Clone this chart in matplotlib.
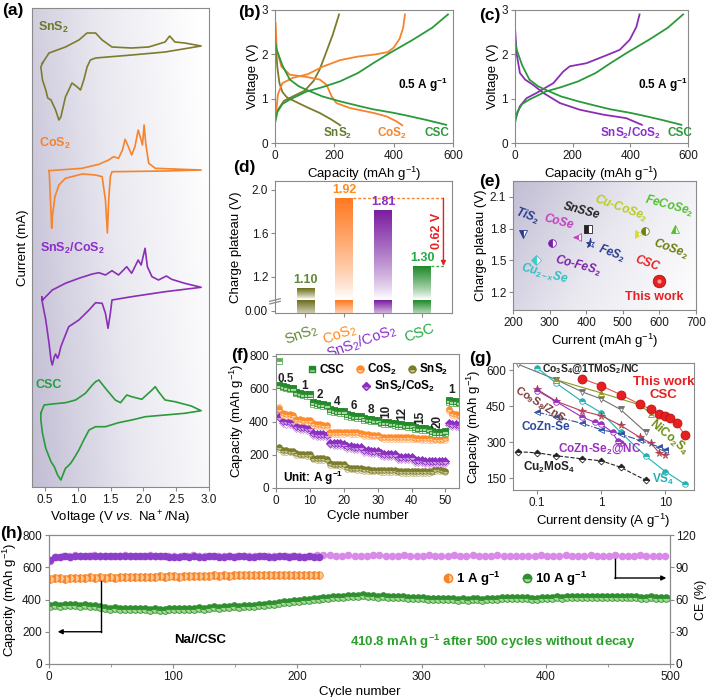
import numpy as np
import matplotlib.pyplot as plt
from matplotlib.colors import LinearSegmentedColormap
from matplotlib.lines import Line2D
import matplotlib.transforms as mtrans

plt.rcParams['font.family'] = ['Liberation Sans', 'DejaVu Sans']
plt.rcParams['mathtext.fontset'] = 'custom'
plt.rcParams['mathtext.rm'] = 'Liberation Sans'
plt.rcParams['mathtext.it'] = 'Liberation Sans:italic'
plt.rcParams['mathtext.bf'] = 'Liberation Sans:bold'
plt.rcParams['mathtext.default'] = 'regular'
plt.rcParams['font.size'] = 8.5
plt.rcParams['axes.edgecolor'] = '#8a8a8a'
plt.rcParams['xtick.color'] = '#8a8a8a'
plt.rcParams['ytick.color'] = '#8a8a8a'
plt.rcParams['xtick.labelcolor'] = '#1a1a1a'
plt.rcParams['ytick.labelcolor'] = '#1a1a1a'
plt.rcParams['xtick.major.size'] = 3
plt.rcParams['ytick.major.size'] = 3
plt.rcParams['xtick.major.pad'] = 2
plt.rcParams['ytick.major.pad'] = 2
plt.rcParams['axes.labelpad'] = 2
plt.rcParams['axes.labelsize'] = 9.5

OLIVE = '#7c7c2c'
ORANGE = '#f7832b'
PURPLE = '#8a2fb5'
GREEN = '#2a9a3a'
RED = '#e62020'

# ---------------- (a) CV curves ----------------
cv_sns2_v = [0.46, 0.56, 0.81, 1.015, 1.14, 1.27, 1.37, 1.52, 1.82, 2.08, 2.18, 2.33, 2.40, 2.48, 2.63, 2.88,
             2.33, 1.82, 1.27, 1.19, 1.14, 1.09, 1.04, 0.99, 0.91, 0.81, 0.74, 0.71, 0.66, 0.59, 0.54, 0.51, 0.46, 0.435, 0.46]
cv_sns2_i = [4, 14, 20, 27, 34, 34, 27, 20, 19, 20, 22, 25, 31, 25, 24, 21,
             15, 12, 9, 7, 0, -13, -23, -20, -16, -30, -50, -53, -43, -33, -31, -23, -13, 0, 4]
cv_cos2_v = [0.56, 0.81, 1.065, 1.32, 1.47, 1.545, 1.62, 1.68, 1.72, 1.77, 1.82, 1.87, 1.92, 1.965, 1.985,
             2.01, 2.035, 2.08, 2.18, 2.88, 2.33, 1.52, 1.495, 1.47, 1.45, 1.42, 1.37, 1.27, 1.065, 0.81,
             0.71, 0.65, 0.61, 0.60, 0.586, 0.565, 0.56]
cv_cos2_i = [0.3, 1.5, 2.7, 6.7, 11, 14.3, 12.7, 21, 31.7, 24.3, 16, 24.3, 41, 31, 26,
             46, 27.7, 7.7, 2.7, 1, 0, -0.7, -5.7, -29, -62, -29, -5.7, -4, -3, -7.3,
             -14, -25.7, -45.7, -57.3, -35.7, -4, 0.3]
cv_hyb_v = [0.46, 0.61, 0.81, 1.015, 1.22, 1.32, 1.42, 1.52, 1.62, 1.745, 1.82, 1.92, 1.965, 2.025, 2.06,
            2.13, 2.23, 2.35, 2.43, 2.63, 2.88, 2.33, 1.82, 1.52, 1.495, 1.46, 1.42, 1.37, 1.27, 1.17,
            1.015, 0.86, 0.79, 0.74, 0.71, 0.69, 0.66, 0.64, 0.61, 0.59, 0.56, 0.51, 0.46, 0.45, 0.46]
cv_hyb_i = [-10, 0, 6.7, 11.7, 16, 17.3, 15, 19.3, 15, 23.3, 16.7, 30, 25, 41.7, 23.3,
            13.3, 10, 14, 10.7, 6.7, 2.7, -1.7, -6.7, -10, -23.3, -38.3, -23.3, -13.3, -12.7, -20,
            -30, -36.7, -48.3, -56.7, -65, -68.3, -64, -66.7, -75, -70, -53.3, -30, -13.3, -6.7, -10]
cv_csc_v = [0.435, 0.485, 0.61, 0.81, 0.965, 1.115, 1.22, 1.27, 1.32, 1.36, 1.42, 1.57, 1.65, 1.745, 1.82,
            1.975, 2.13, 2.18, 2.23, 2.33, 2.48, 2.73, 2.88,
            2.63, 2.33, 2.03, 1.82, 1.62, 1.42, 1.27, 1.17, 1.09, 1.015, 0.94, 0.89, 0.84, 0.81, 0.76,
            0.74, 0.69, 0.64, 0.59, 0.51, 0.46, 0.435, 0.435]
cv_csc_i = [0, 8, 9, 10.3, 13, 19.7, 28, 31.3, 33, 29.7, 24.7, 13, 10.3, 18, 16.3,
            13.7, 23, 26.3, 21.3, 13, 11.3, 7, 2.3,
            -0.3, -2, -3.7, -7, -9.7, -13.7, -13.7, -17, -27, -37, -45.3, -50.3, -53.7, -55.3, -63.7,
            -67, -62, -53.7, -48.7, -35.3, -20.3, -7, 0]
cv_offsets = [420, 316, 197, 74]

# ---------------- (b)/(c) charge-discharge ----------------
b_sns2_chg_q = [0, 10, 30, 60, 100, 130, 150, 170, 195, 216]
b_sns2_chg_v = [0.55, 0.75, 0.95, 1.05, 1.18, 1.4, 1.65, 2.0, 2.45, 2.9]
b_sns2_dis_q = [0, 3, 8, 15, 25, 40, 70, 110, 150, 190, 220]
b_sns2_dis_v = [2.45, 2.2, 1.7, 1.35, 1.15, 1.03, 0.93, 0.8, 0.68, 0.53, 0.4]
b_cos2_chg_q = [0, 10, 25, 60, 110, 160, 220, 280, 340, 380, 400, 420, 432, 438]
b_cos2_chg_v = [0.45, 1.1, 1.35, 1.47, 1.55, 1.72, 1.87, 1.95, 2.0, 2.05, 2.15, 2.35, 2.6, 2.9]
b_cos2_dis_q = [0, 2, 6, 22, 50, 106, 151, 174, 191, 207, 252, 331, 376, 409, 429]
b_cos2_dis_v = [2.75, 2.7, 2.1, 1.72, 1.54, 1.49, 1.43, 1.31, 1.05, 0.9, 0.79, 0.68, 0.6, 0.49, 0.4]
csc_chg_q = [0, 8, 25, 50, 106, 160, 219, 280, 331, 387, 465, 530, 583]
csc_chg_v = [0.45, 0.7, 0.88, 0.98, 1.16, 1.26, 1.39, 1.58, 1.8, 2.03, 2.33, 2.6, 2.9]
csc_dis_q = [0, 6, 25, 50, 80, 106, 160, 219, 280, 331, 400, 443, 510, 577]
csc_dis_v = [2.3, 2.1, 1.75, 1.43, 1.28, 1.2, 1.05, 0.94, 0.84, 0.76, 0.68, 0.62, 0.52, 0.41]
c_hyb_chg_q = [0, 17, 40, 75, 133, 167, 190, 248, 306, 363, 398, 421, 432]
c_hyb_chg_v = [0.52, 0.83, 1.01, 1.13, 1.35, 1.61, 1.73, 1.8, 1.95, 2.1, 2.33, 2.62, 2.9]
c_hyb_dis_q = [0, 6, 17, 35, 63, 98, 156, 225, 306, 386, 440]
c_hyb_dis_v = [2.6, 2.0, 1.58, 1.43, 1.31, 1.13, 0.9, 0.75, 0.64, 0.56, 0.41]

# ---------------- (d) charge plateau ----------------
d_names = [r'SnS$_2$', r'CoS$_2$', r'SnS$_2$/CoS$_2$', 'CSC']
d_plateau = [1.10, 1.92, 1.81, 1.30]
d_bar_colors = ['#6e6e1e', '#ff7a22', '#7a1fa0', '#1f8a2a']
d_text_colors = ['#5f8a35', '#ff8c1a', '#8a2fc9', '#22aa44']

# ---------------- (e) comparison ----------------
e_names = ['TiS2', 'CoSe', 'SnSSe', 'FeS2', 'Co-FeS2', 'Cu-CoSe2', 'CoSe2', 'FeCoSe2', 'Cu2-xSe', 'CSC']
e_current = [227, 376, 404, 411, 306, 544, 560, 643, 264, 600]
e_plateau = [1.75, 1.72, 1.80, 1.66, 1.66, 1.75, 1.78, 1.80, 1.50, 1.30]
e_markers = ['v', '<', 's', '*', 'o', '>', 'o', '^', 'D', 'o']
e_colors = ['#2a3c8c', '#c040c0', '#222222', '#2a3c8c', '#7a20a8', '#d8dc30', '#6f7e18', '#52c02a', '#40c8d0', RED]

# ---------------- (f) rate performance ----------------
f_csc_chg = [620, 615, 610, 606, 602, 580, 575, 571, 568, 566, 518, 512, 508, 505, 503, 476, 470, 467, 465, 463,
             445, 440, 437, 435, 434, 422, 418, 416, 414, 413, 401, 398, 396, 394, 393, 387, 384, 382, 380, 379,
             368, 364, 362, 360, 359, 342, 338, 336, 336, 344, 530, 526, 523, 521]
f_csc_dis = [766, 612, 605, 600, 596, 572, 566, 562, 559, 557, 508, 503, 499, 497, 495, 466, 461, 458, 456, 455,
             434, 430, 428, 426, 425, 412, 409, 407, 405, 404, 391, 388, 386, 384, 383, 377, 374, 372, 370, 369,
             358, 355, 353, 351, 350, 330, 327, 325, 325, 333, 520, 516, 514, 512]
f_cos2_chg = [480, 452, 448, 445, 442, 420, 416, 413, 411, 409, 390, 386, 384, 382, 381, 340, 338, 337, 336, 336,
              340, 338, 337, 336, 335, 326, 324, 323, 322, 322, 310, 309, 308, 308, 307, 309, 308, 307, 307, 306,
              305, 304, 303, 303, 302, 300, 299, 299, 298, 300, 478, 452, 447, 444]
f_cos2_dis = [492, 440, 436, 433, 430, 410, 406, 403, 401, 399, 380, 376, 374, 372, 371, 330, 328, 327, 326, 326,
              330, 328, 327, 326, 325, 316, 314, 313, 312, 312, 300, 299, 298, 298, 297, 299, 298, 297, 297, 296,
              295, 294, 293, 293, 292, 290, 289, 289, 288, 290, 466, 442, 437, 434]
f_hyb_chg = [432, 405, 402, 399, 397, 372, 369, 367, 365, 364, 330, 327, 325, 324, 323, 275, 272, 270, 269, 268,
             254, 252, 250, 249, 248, 230, 228, 226, 225, 224, 210, 208, 207, 206, 205, 190, 188, 187, 186, 185,
             170, 168, 167, 166, 166, 164, 163, 162, 162, 161, 390, 386, 384, 382]
f_hyb_dis = [445, 392, 389, 386, 384, 360, 357, 355, 353, 352, 318, 315, 313, 312, 311, 263, 260, 258, 257, 256,
             242, 240, 238, 237, 236, 218, 216, 214, 213, 212, 198, 196, 195, 194, 193, 178, 176, 175, 174, 173,
             158, 156, 155, 154, 154, 152, 151, 150, 150, 149, 378, 374, 372, 370]
f_sns2_chg = [245, 230, 228, 226, 225, 210, 208, 207, 206, 205, 183, 181, 180, 179, 178, 150, 148, 147, 146, 145,
              125, 123, 122, 121, 120, 113, 112, 111, 110, 110, 108, 107, 107, 106, 106, 104, 103, 103, 102, 102,
              102, 101, 101, 100, 100, 104, 112, 115, 110, 104]
f_sns2_dis = [235, 220, 218, 216, 215, 200, 198, 197, 196, 195, 173, 171, 170, 169, 168, 140, 138, 137, 136, 135,
              115, 113, 112, 111, 110, 103, 102, 101, 100, 100, 98, 97, 97, 96, 96, 94, 93, 93, 92, 92,
              92, 91, 91, 90, 90, 94, 102, 105, 100, 94]
f_rates = ['0.5', '1', '2', '4', '6', '8', '10', '12', '15', '20', '1']
f_rate_cycle = [3, 8.5, 13, 18, 23, 28, 32.5, 37.4, 42.6, 47.6, 51.8]
f_rate_cap = [660, 615, 560, 520, 495, 470, 465, 450, 428, 405, 590]

# ---------------- (g) literature comparison ----------------
g_cu2mos4_x = [0.05, 0.1, 0.2, 0.5, 1, 2, 5]
g_cu2mos4_y = [260, 255, 243, 230, 222, 195, 140]
g_vs4_x = [0.1, 0.2, 0.5, 1, 2, 5, 10, 20]
g_vs4_y = [610, 545, 470, 423, 341, 240, 177, 125]
g_co3s4_x = [0.05, 0.2, 0.5, 1, 2, 5]
g_co3s4_y = [625, 560, 510, 480, 436, 340]
g_nico2s4_x = [0.2, 1, 4, 6]
g_nico2s4_y = [560, 505, 455, 418]
g_co9s8_x = [0.1, 0.2, 0.5, 1, 2, 4, 6, 8, 10]
g_co9s8_y = [520, 470, 430, 410, 370, 320, 295, 255, 245]
g_coznse_x = [0.1, 0.2, 0.5, 1, 2, 4, 8, 10]
g_coznse_y = [425, 405, 378, 352, 334, 307, 280, 268]
g_coznse2_x = [0.1, 0.2, 0.5, 0.8, 1, 1.5, 1.8, 2]
g_coznse2_y = [515, 468, 405, 382, 375, 341, 304, 296]
g_csc_x = [0.5, 1, 2, 4, 6, 8, 10, 12, 15, 20]
g_csc_y = [565, 535, 498, 458, 436, 418, 409, 399, 380, 330]

# ---------------- (h) long cycling ----------------
h_cyc_1a = np.arange(1, 218, 4)
h_cap_1a = [530, 534, 531, 529, 533, 536, 532, 535, 538, 534, 537,
            536, 539, 535, 538, 541, 537, 540, 538, 542, 539, 541, 544, 540, 543,
            545, 542, 546, 543, 547, 545, 548, 546, 549, 547, 550, 548, 551,
            549, 552, 550, 553, 551, 549, 552, 550, 553, 551, 549, 552, 550,
            551, 549, 552, 550]
h_ce_1a = [96.5, 99.3, 99.8, 100.3, 100.0, 100.5, 100.2, 100.7, 100.4, 100.6, 100.3,
           100.5, 100.2, 100.6, 100.4, 100.1, 100.5, 100.3, 100.6, 100.2, 100.4, 100.5, 100.1, 100.3, 100.0,
           99.6, 99.9, 100.1, 99.8, 100.2, 100.0, 99.9, 100.2, 100.1, 99.8, 100.0, 100.2, 99.9,
           100.1, 100.3, 100.0, 99.8, 100.1, 100.2, 99.9, 100.0, 100.3, 100.1, 99.9, 100.2, 100.0,
           99.9, 100.1, 100.0, 99.8]
h_cyc_10a = np.arange(1, 498, 4)
h_cap_10a = [362, 366, 361, 364, 368, 363, 360, 365, 362, 358, 352,
             345, 343, 346, 341, 344, 340, 338, 342, 339, 336, 340, 337, 335, 339,
             341, 343, 340, 344, 342, 346, 344, 348, 351, 349, 353, 355, 357,
             356, 360, 362, 361, 365, 368, 372, 375, 378, 382, 386, 389, 393,
             396, 399, 402, 405, 407, 410, 413, 415, 417, 419, 421, 423,
             425, 422, 420, 418, 419, 416, 417, 414, 415, 412, 410, 411,
             408, 406, 405, 403, 402, 404, 401, 400, 402, 399, 401, 403, 400,
             402, 404, 406, 408, 407, 409, 411, 410, 408, 406, 405, 407, 409,
             411, 413, 412, 414, 413, 415, 414, 416, 415, 413, 414, 416,
             415, 414, 416, 415, 413, 414, 412, 411, 413, 412, 411, 410]
h_cyc_ce10 = np.arange(1, 497, 5)
h_ce_10a = [96.0, 99.5, 100.2, 100.6, 101.0, 100.4, 100.8, 101.2, 100.5, 100.9,
            100.3, 100.7, 101.1, 100.6, 100.2, 100.8, 101.0, 100.4, 100.6, 100.9,
            100.5, 100.2, 100.7, 101.0, 100.6, 100.3, 100.8, 100.5, 100.9, 100.4,
            100.7, 100.2, 100.6, 100.9, 100.4, 100.8, 100.5, 100.1, 100.6, 100.9,
            100.4, 100.0, 100.6, 101.0, 101.5, 101.2, 100.6, 100.9, 101.3, 100.7,
            100.2, 100.9, 101.1, 101.2, 100.8, 100.3, 100.6, 101.0, 100.8, 100.4,
            100.6, 101.1, 100.8, 100.3, 100.9, 101.2, 100.7, 100.5, 101.0, 100.6,
            100.3, 100.8, 101.1, 100.9, 100.5, 100.9, 100.6, 100.2, 100.7, 101.4,
            100.9, 100.5, 100.8, 101.1, 100.7, 100.2, 100.9, 101.2, 100.8, 100.5,
            100.7, 101.0, 100.6, 100.4, 100.8, 101.0, 100.7, 100.5, 100.9, 100.6]

fig = plt.figure(figsize=(7.10, 6.97), dpi=100)


def box(l, t, r, b):
    return fig.add_axes([l / 710, 1 - b / 697, (r - l) / 710, (b - t) / 697])


def lavender(ax, wx, wy):
    yy, xx = np.mgrid[0:1:200j, 0:1:200j]
    t = np.clip(wx * xx + wy * yy + (0 if wy >= 0 else -wy), 0, 1)
    cmap = LinearSegmentedColormap.from_list('lav', ['#c2bdd4', '#e9e8f0', '#ffffff'])
    ax.imshow(t, extent=(0, 1, 0, 1), transform=ax.transAxes, origin='lower', cmap=cmap,
              vmin=0, vmax=1, aspect='auto', zorder=0, interpolation='bilinear')


def panel(x, y, s):
    fig.text(x / 710, 1 - y / 697, s, fontsize=12.5, fontweight='bold', va='top', ha='left')


def half(ax, x, y, color, marker, fill='top', alt='white', ms=4, **kw):
    ax.plot(x, y, ls='none', marker=marker, color=color, mfc=color, mec=color,
            fillstyle=fill, markerfacecoloralt=alt, ms=ms, mew=0.6, **kw)


# ===== (a) =====
axa = box(32, 8, 209, 487)
lavender(axa, 0.85, 0.2)
for v, i, off, c in zip([cv_sns2_v, cv_cos2_v, cv_hyb_v, cv_csc_v],
                        [cv_sns2_i, cv_cos2_i, cv_hyb_i, cv_csc_i],
                        cv_offsets, [OLIVE, ORANGE, PURPLE, GREEN]):
    axa.plot(v, np.array(i) + off, color=c, lw=1.2, zorder=2)
axa.text(0.62, 460, r'SnS$_\mathbf{2}$', color='#6b7a2c', fontweight='bold', fontsize=9, ha='center', va='center')
axa.text(0.65, 344, r'CoS$_\mathbf{2}$', color=ORANGE, fontweight='bold', fontsize=9, ha='center', va='center')
axa.text(0.91, 239, r'SnS$_\mathbf{2}$/CoS$_\mathbf{2}$', color='#8a2fc9', fontweight='bold', fontsize=9,
         ha='center', va='center')
axa.text(0.56, 102, 'CSC', color='#25a040', fontweight='bold', fontsize=9, ha='center', va='center')
axa.set_xlim(0.3, 3.0)
axa.set_ylim(0, 479)
axa.set_yticks([])
axa.set_xticks([0.5, 1.0, 1.5, 2.0, 2.5, 3.0])
axa.set_xticklabels(['0.5', '1.0', '1.5', '2.0', '2.5', '3.0'])
axa.set_xlabel(r'Voltage (V $\mathit{vs.}$ Na$^+$/Na)')
axa.set_ylabel('Current (mA)')

# ===== (b) =====
axb = box(275, 10, 453, 143)
axb.plot(b_sns2_chg_q, b_sns2_chg_v, color=OLIVE, lw=1.3)
axb.plot(b_sns2_dis_q, b_sns2_dis_v, color=OLIVE, lw=1.3)
axb.plot(b_cos2_chg_q, b_cos2_chg_v, color=ORANGE, lw=1.3)
axb.plot(b_cos2_dis_q, b_cos2_dis_v, color=ORANGE, lw=1.3)
axb.plot(csc_chg_q, csc_chg_v, color=GREEN, lw=1.3)
axb.plot(csc_dis_q, csc_dis_v, color=GREEN, lw=1.3)
axb.text(210, 0.22, r'SnS$_\mathbf{2}$', color='#5f7a2c', fontweight='bold', ha='center', va='center')
axb.text(395, 0.22, r'CoS$_\mathbf{2}$', color=ORANGE, fontweight='bold', ha='center', va='center')
axb.text(545, 0.22, 'CSC', color=GREEN, fontweight='bold', ha='center', va='center')
axb.text(497, 1.31, r'0.5 A g$^{\mathbf{-1}}$', fontweight='bold', ha='center', va='center')
axb.set_xlim(0, 600)
axb.set_ylim(0, 3)
axb.set_xticks([0, 200, 400, 600])
axb.set_yticks([0, 1, 2, 3])
axb.set_xlabel(r'Capacity (mAh g$^{-1}$)')
axb.set_ylabel('Voltage (V)')

# ===== (c) =====
axc = box(515, 10, 688, 143)
axc.plot(c_hyb_chg_q, c_hyb_chg_v, color=PURPLE, lw=1.3)
axc.plot(c_hyb_dis_q, c_hyb_dis_v, color=PURPLE, lw=1.3)
axc.plot(csc_chg_q, csc_chg_v, color=GREEN, lw=1.3)
axc.plot(csc_dis_q, csc_dis_v, color=GREEN, lw=1.3)
axc.text(399, 0.22, r'SnS$_\mathbf{2}$/CoS$_\mathbf{2}$', color='#8a2fc9', fontweight='bold', ha='center', va='center')
axc.text(572, 0.22, 'CSC', color=GREEN, fontweight='bold', ha='center', va='center')
axc.text(514, 1.31, r'0.5 A g$^{\mathbf{-1}}$', fontweight='bold', ha='center', va='center')
axc.set_xlim(0, 600)
axc.set_ylim(0, 3)
axc.set_xticks([0, 200, 400, 600])
axc.set_yticks([0, 1, 2, 3])
axc.set_xlabel(r'Capacity (mAh g$^{-1}$)')
axc.set_ylabel('Voltage (V)')

# ===== (d) =====
axd = box(275, 181, 452, 313)
ybot = 0.868
for k, (v, c) in enumerate(zip(d_plateau, d_bar_colors)):
    cm = LinearSegmentedColormap.from_list('bar', ['#ffffff', c])
    axd.imshow(np.linspace(0.0, 1, 80).reshape(-1, 1) ** 0.8, extent=(k - 0.225, k + 0.225, 1.0, v),
               origin='lower', cmap=cm, vmin=0, vmax=1, aspect='auto', zorder=2)
    axd.imshow(np.linspace(0.35, 1, 30).reshape(-1, 1), extent=(k - 0.225, k + 0.225, ybot, 0.985),
               origin='lower', cmap=cm, vmin=0, vmax=1, aspect='auto', zorder=2)
    axd.text(k, v + 0.02, f'{v:.2f}', ha='center', va='bottom', color=d_text_colors[k],
             fontweight='bold', fontsize=9)
axd.plot([1.225, 3.6], [d_plateau[1], d_plateau[1]], ls=(0, (2, 1.5)), color=ORANGE, lw=1)
axd.plot([3.225, 3.6], [d_plateau[3], d_plateau[3]], ls=(0, (2, 1.5)), color='#3ab04a', lw=1)
axd.annotate('', xy=(3.55, d_plateau[3]), xytext=(3.55, d_plateau[1]),
             arrowprops=dict(arrowstyle='-|>', color=RED, lw=1, mutation_scale=7, shrinkA=0, shrinkB=0))
axd.text(3.38, 1.62, '0.62 V', rotation=90, color=RED, fontweight='bold', ha='center', va='center', fontsize=9)
tr = mtrans.blended_transform_factory(axd.transAxes, axd.transData)
for dy in (-0.012, 0.012):
    axd.plot([-0.03, 0.03], [0.975 + dy - 0.012, 0.975 + dy + 0.012], color='#8a8a8a', lw=0.9,
             transform=tr, clip_on=False, zorder=5)
axd.set_xlim(-0.78, 3.77)
axd.set_ylim(ybot, 2.078)
axd.set_yticks([0.89, 1.2, 1.6, 2.0])
axd.set_yticklabels(['0.00', '1.2', '1.6', '2.0'])
axd.set_xticks(range(4))
axd.set_xticklabels(d_names, rotation=20, ha='right', rotation_mode='anchor', fontsize=10.5)
for lbl, c in zip(axd.get_xticklabels(), d_text_colors):
    lbl.set_color(c)
    lbl.set_transform(lbl.get_transform() + mtrans.ScaledTranslation(7 / 72, -1 / 72, fig.dpi_scale_trans))
axd.set_ylabel('Charge plateau (V)')

# ===== (e) =====
axe = box(513, 181, 696, 310)
lavender(axe, 0.7, -0.3)
for x, y, m, c in zip(e_current, e_plateau, e_markers, e_colors):
    if m == 'o' and c == RED:
        axe.plot(x, y, marker='o', ms=9, color=RED, mec='#b01010', mew=0.6, zorder=3)
        axe.plot(x, y, marker='o', ms=3, color='#ff9a9a', mew=0, zorder=4)
    else:
        half(axe, x, y, c, m, fill='left', alt='white', ms=6.5 if m == '*' else 5.5, zorder=3)
e_labels = [(240, 1.92, r'TiS$_\mathbf{2}$', '#2a3c8c', -20),
            (326, 1.86, 'CoSe', '#c040c0', -15),
            (387, 1.97, 'SnSSe', '#222222', -15),
            (494, 1.99, r'Cu-CoSe$_\mathbf{2}$', '#b8cc20', -20),
            (626, 2.01, r'FeCoSe$_\mathbf{2}$', '#50c030', -15),
            (631, 1.61, r'CoSe$_\mathbf{2}$', '#6b7d10', -20),
            (469, 1.56, r'FeS$_\mathbf{2}$', '#2a3c8c', -20),
            (378, 1.45, r'Co-FeS$_\mathbf{2}$', '#7a20a8', -15),
            (566, 1.47, 'CSC', RED, -20),
            (285, 1.37, r'Cu$_{\mathbf{2-x}}$Se', '#30c0c0', -15)]
for x, y, s, c, r in e_labels:
    axe.text(x, y, s, color=c, rotation=r, fontstyle='italic', fontweight='bold', fontsize=8.5,
             ha='center', va='center')
axe.text(587, 1.15, 'This work', color=RED, fontweight='bold', fontsize=9, ha='center', va='center')
axe.set_xlim(200, 700)
axe.set_ylim(1.03, 2.25)
axe.set_xticks([200, 300, 400, 500, 600, 700])
axe.set_yticks([1.2, 1.5, 1.8, 2.1])
axe.set_xlabel(r'Current (mAh g$^{-1}$)')
axe.set_ylabel('Charge plateau (V)')

# ===== (f) =====
axf = box(276, 354, 459, 488)
cyc = np.arange(1, 55)
half(axf, cyc[:50], f_sns2_dis, '#b0b070', 'o', fill='top', alt='white', ms=4)
half(axf, cyc[:50], f_sns2_chg, '#7c7c2c', 'o', fill='top', alt='#c8c890', ms=4)
half(axf, cyc, f_hyb_dis, '#c890e0', 'D', fill='top', alt='white', ms=3.6)
half(axf, cyc, f_hyb_chg, '#8a2fc0', 'D', fill='top', alt='#d0a0e8', ms=3.6)
half(axf, cyc, f_cos2_dis, '#ffb070', 'o', fill='top', alt='white', ms=4)
half(axf, cyc, f_cos2_chg, '#ff8a2a', 'o', fill='top', alt='#ffd0a0', ms=4)
half(axf, cyc, f_csc_dis, '#60b060', 's', fill='top', alt='white', ms=4)
half(axf, cyc, f_csc_chg, '#238a2a', 's', fill='top', alt='#a8d8a0', ms=4)
for s, x, y in zip(f_rates, f_rate_cycle, f_rate_cap):
    axf.text(x, y, s, fontweight='bold', fontsize=8.5, ha='center', va='center',
             rotation=90 if len(s) == 2 else 0, color='#222222')
axf.text(2, 60, r'Unit: A g$^{\mathbf{-1}}$', fontweight='bold', fontsize=8.5, ha='left', va='center')
h1 = [Line2D([], [], ls='none', marker='s', color='#238a2a', fillstyle='top', markerfacecoloralt='#a8d8a0', ms=5),
      Line2D([], [], ls='none', marker='o', color='#ff8a2a', fillstyle='top', markerfacecoloralt='#ffd0a0', ms=5),
      Line2D([], [], ls='none', marker='o', color='#7c7c2c', fillstyle='top', markerfacecoloralt='#c8c890', ms=5)]
leg1 = axf.legend(h1, ['CSC', r'CoS$_\mathbf{2}$', r'SnS$_\mathbf{2}$'], ncol=3, loc='upper right',
                  bbox_to_anchor=(1.0, 1.02), frameon=False, handletextpad=0.1, columnspacing=0.8,
                  handlelength=1.0, prop={'weight': 'bold', 'size': 8.5})
axf.add_artist(leg1)
h2 = [Line2D([], [], ls='none', marker='D', color='#8a2fc0', fillstyle='top', markerfacecoloralt='#d0a0e8', ms=4.5)]
axf.legend(h2, [r'SnS$_\mathbf{2}$/CoS$_\mathbf{2}$'], loc='upper left', bbox_to_anchor=(0.4, 0.89),
           frameon=False, handletextpad=0.2, handlelength=1.0, prop={'weight': 'bold', 'size': 8.5})
axf.set_xlim(0, 54)
axf.set_ylim(0, 810)
axf.set_xticks([0, 10, 20, 30, 40, 50])
axf.set_yticks([0, 200, 400, 600, 800])
axf.set_xlabel('Cycle number')
axf.set_ylabel(r'Capacity (mAh g$^{-1}$)')

# ===== (g) =====
axg = box(513, 363, 694, 490)
axg.plot(g_cu2mos4_x, g_cu2mos4_y, color='#222222', ls='--', lw=0.8, marker='D', ms=3.5,
         fillstyle='top', markerfacecoloralt='white', mew=0.6)
axg.plot(g_co3s4_x, g_co3s4_y, color='#707070', lw=0.8, marker='v', ms=4,
         fillstyle='top', markerfacecoloralt='white', mew=0.6)
axg.plot(g_vs4_x, g_vs4_y, color='#22b0b0', lw=0.8, marker='o', ms=4,
         fillstyle='top', markerfacecoloralt='white', mew=0.6)
axg.plot(g_nico2s4_x, g_nico2s4_y, color='#8a9a20', lw=0.8, marker='^', ms=4,
         fillstyle='top', markerfacecoloralt='white', mew=0.6)
axg.plot(g_co9s8_x, g_co9s8_y, color='#b04050', lw=0.8, marker='*', ms=5.5,
         fillstyle='top', markerfacecoloralt='white', mew=0.6)
axg.plot(g_coznse_x, g_coznse_y, color='#3050a0', ls='-.', lw=0.8, marker='<', ms=4,
         fillstyle='top', markerfacecoloralt='white', mew=0.6)
axg.plot(g_coznse2_x, g_coznse2_y, color='#9a30c0', lw=0.8, marker='o', ms=4,
         fillstyle='top', markerfacecoloralt='white', mew=0.6)
axg.plot(g_csc_x, g_csc_y, color='#f05050', lw=0.8, marker='o', ms=6.5, mfc=RED, mec='#b01010', mew=0.5)
axg.text(0.118, 603, r'Co$_\mathbf{3}$S$_\mathbf{4}$@1TMoS$_\mathbf{2}$/NC', fontweight='bold', fontsize=7.5,
         ha='left', va='center', color='#222222')
axg.text(9.6, 549, 'This work', color=RED, fontweight='bold', fontsize=9.5, ha='center', va='center')
axg.text(9.3, 498, 'CSC', color=RED, fontweight='bold', fontsize=9.5, ha='center', va='center')
axg.text(11.5, 322, r'NiCo$_\mathbf{2}$S$_\mathbf{4}$', color='#6b8a10', fontweight='bold', fontsize=8.5,
         rotation=-40, ha='center', va='center')
axg.text(0.058, 361, 'CoZn-Se', color='#2a4aa0', fontweight='bold', fontsize=8.5, ha='left', va='center')
axg.text(0.213, 273, r'CoZn-Se$_\mathbf{2}$@NC', color='#9a30c0', fontweight='bold', fontsize=8.5,
         ha='left', va='center')
axg.text(0.06, 194, r'Cu$_\mathbf{2}$MoS$_\mathbf{4}$', color='#222222', fontweight='bold', fontsize=8.5,
         ha='left', va='center')
axg.text(6.3, 143, r'VS$_\mathbf{4}$', color='#22b0b0', fontweight='bold', fontsize=8.5, ha='left', va='center')
axg.text(0.11, 457, r'Co$_\mathbf{9}$S$_\mathbf{8}$/ZnS', color='#7a3a3a', fontweight='bold', fontsize=8,
         rotation=-32, ha='center', va='center')
axg.set_xscale('log')
axg.set_xlim(0.042, 28)
axg.set_ylim(100, 630)
axg.set_xticks([0.1, 1, 10])
axg.set_xticklabels(['0.1', '1', '10'])
axg.set_yticks([150, 300, 450, 600])
axg.minorticks_off()
axg.set_xlabel(r'Current density (A g$^{-1}$)')
axg.set_ylabel(r'Capacity (mAh g$^{-1}$)')

# ===== (h) =====
axh = box(49, 535, 670, 664)
axh2 = axh.twinx()
axh2.plot(h_cyc_ce10, h_ce_10a, ls='none', marker='o', ms=5.5, color='#d98ae8', mew=0)
axh2.plot(h_cyc_1a, h_ce_1a, ls='none', marker='o', ms=5.5, color='#8c3fc8', mew=0)
half(axh, h_cyc_1a, h_cap_1a, '#f7832b', 'o', fill='left', alt='#ffc890', ms=5.5)
half(axh, h_cyc_10a, h_cap_10a, '#2f8f2f', 'o', fill='top', alt='#a0d890', ms=5.5)
axh.plot([42, 42], [515, 200], color='k', lw=1)
axh.annotate('', xy=(7, 200), xytext=(42.5, 200),
             arrowprops=dict(arrowstyle='-|>', color='k', lw=1, mutation_scale=7, shrinkA=0, shrinkB=0))
axh2.plot([456, 456], [97.5, 80], color='k', lw=1)
axh2.annotate('', xy=(497, 80), xytext=(455.5, 80),
              arrowprops=dict(arrowstyle='-|>', color='k', lw=1, mutation_scale=7, shrinkA=0, shrinkB=0))
axh.text(122, 150, 'Na//CSC', fontweight='bold', fontsize=9.5, ha='center', va='center')
axh.text(357, 140, r'410.8 mAh g$^{\mathbf{-1}}$ after 500 cycles without decay', color='#2aa02a',
         fontweight='bold', fontsize=9.5, ha='center', va='center')
hh = [Line2D([], [], ls='none', marker='o', color='#f7832b', fillstyle='left', markerfacecoloralt='#ffc890', ms=6),
      Line2D([], [], ls='none', marker='o', color='#2f8f2f', fillstyle='top', markerfacecoloralt='#a0d890', ms=6)]
axh.legend(hh, [r'1 A g$^{\mathbf{-1}}$', r'10 A g$^{\mathbf{-1}}$'], ncol=2, loc='center left',
           bbox_to_anchor=(0.615, 0.66), frameon=False, handletextpad=0.2, columnspacing=1.6,
           handlelength=0.8, prop={'weight': 'bold', 'size': 9.5})
axh.set_xlim(0, 500)
axh.set_ylim(0, 800)
axh2.set_ylim(0, 120)
axh.set_xticks([0, 100, 200, 300, 400, 500])
axh.set_xticks([50, 150, 250, 350, 450], minor=True)
axh.tick_params(axis='x', which='minor', length=2)
axh.set_yticks([0, 200, 400, 600, 800])
axh2.set_yticks([0, 30, 60, 90, 120])
axh2.tick_params(axis='y', pad=1)
axh.set_xlabel('Cycle number')
axh.set_ylabel(r'Capacity (mAh g$^{-1}$)')
axh2.set_ylabel('CE (%)', fontsize=9, labelpad=0)

panel(2, 3, '(a)')
panel(238, 5, '(b)')
panel(479, 8, '(c)')
panel(233, 160, '(d)')
panel(479, 174, '(e)')
panel(231, 348, '(f)')
panel(469, 351, '(g)')
panel(0, 526, '(h)')

fig.savefig('out.png', dpi=100)
